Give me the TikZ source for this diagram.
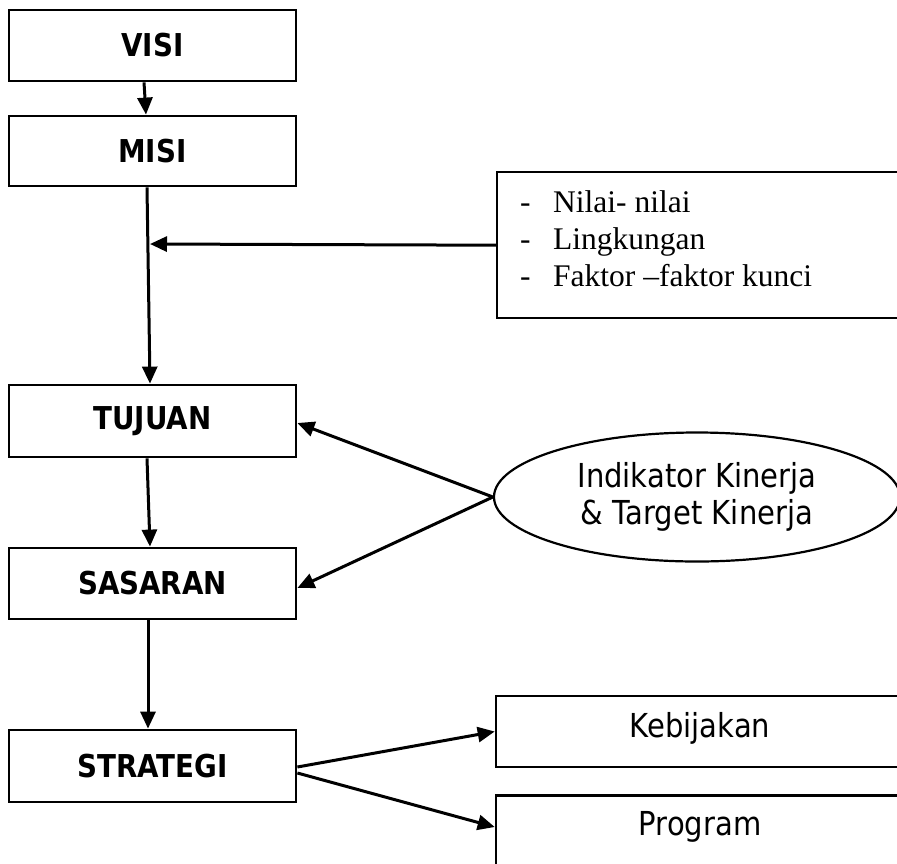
\documentclass[tikz,border=0pt]{standalone}
\usepackage{fontspec}
\setmainfont{Liberation Serif}
\newfontfamily\lblfont[FakeStretch=0.88]{DejaVu Sans}
\usetikzlibrary{arrows.meta,shapes.geometric}
\begin{document}
\begin{tikzpicture}[x=1pt,y=-1pt,
  box/.style={draw, line width=2.8pt, minimum width=287pt, inner sep=0pt,
    font=\lblfont\bfseries\fontsize{31.5}{37}\selectfont},
  sidebox/.style={draw, line width=2.6pt, minimum width=408pt, inner sep=0pt},
  sidetext/.style={inner sep=0pt, font=\lblfont\fontsize{33}{37}\selectfont},
  item/.style={anchor=base west, inner sep=0pt, font=\fontsize{31.5}{37}\selectfont},
  arr/.style={line width=3pt, -{Triangle[length=17pt,width=15pt]}},
]
\useasboundingbox (0,0) rectangle (897,863);
\clip (0,0) rectangle (897,863);

% main chain
\node[box, minimum height=71pt] (visi) at (152.5,45.5) {VISI};
\node[box, minimum height=70pt] (misi) at (152.5,151) {MISI};
\node[box, minimum height=72pt] (tuj)  at (152.5,421) {TUJUAN};
\node[box, minimum height=71pt] (sas)  at (152.5,583.5) {SASARAN};
\node[box, minimum height=72pt] (str)  at (152.5,766) {STRATEGI};

% values / environment / key factors
\node[draw, line width=2.4pt, minimum width=420pt, minimum height=146pt,
      anchor=north west, inner sep=0pt] (valbox) at (496,171) {};
\node[item] (v1) at (520,212) {\makebox[33pt][l]{-}Nilai- nilai};
\node[item] (v2) at (520,249) {\makebox[33pt][l]{-}Lingkungan};
\node[item] (v3) at (520,286) {\makebox[33pt][l]{-}Faktor \textendash faktor kunci};

% indicators
\node[ellipse, draw, line width=2.2pt, minimum width=406pt, minimum height=129pt,
      inner sep=0pt, align=center, font=\lblfont\fontsize{33}{37}\selectfont]
      (ind) at (697,497) {Indikator Kinerja\\\& Target Kinerja};

% policy and program
\node[sidebox, minimum height=71pt] (keb) at (700,731.5) {};
\node[sidetext] (kebtxt) at (700,728) {Kebijakan};
\node[sidebox, minimum height=140pt, anchor=north] (progbox) at (700,794) {};
\node[sidetext] (prog) at (700,827) {Program};

% connectors
\coordinate (join) at (150,244);
\draw[arr] ([xshift=-8.5pt]visi.south) -- ([xshift=-6.5pt]misi.north);
\draw[arr] ([xshift=-5.5pt]misi.south) -- ([xshift=-2.5pt]tuj.north);
\draw[arr] (valbox.west) -- (join);
\draw[arr] ([xshift=-5.5pt]tuj.south) -- ([xshift=-2.5pt]sas.north);
\draw[arr] ([xshift=-4.5pt]sas.south) -- ([xshift=-4.5pt]str.north);
\draw[arr] (ind.west) -- ([yshift=-2pt]tuj.east);
\draw[arr] (ind.west) -- ([yshift=-4.5pt]sas.east);
\draw[arr] ([yshift=-1pt]str.east) -- (keb.west);
\draw[arr] ([yshift=-7pt]str.east) -- (progbox.west |- prog);
\end{tikzpicture}
\end{document}
